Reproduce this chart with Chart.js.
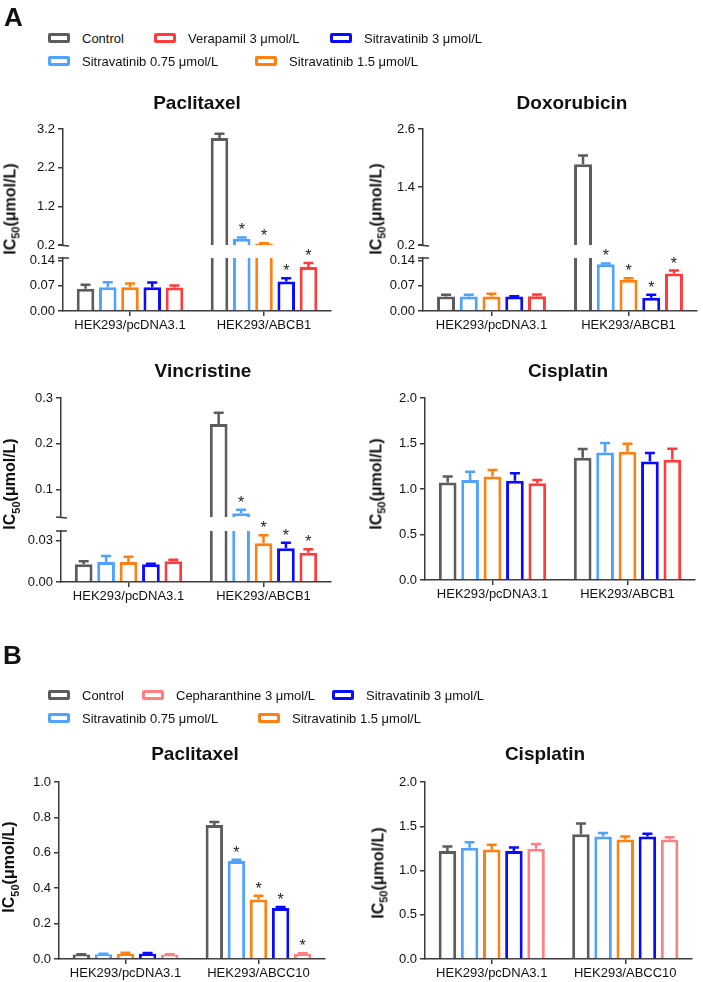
<!DOCTYPE html>
<html>
<head>
<meta charset="utf-8">
<script src="https://cdn.jsdelivr.net/npm/chart.js@4.4.1/dist/chart.umd.min.js"></script>
<style>
  body { margin: 0; background: #fff; font-family: "Liberation Sans", Arial, sans-serif; }
  #page { position: relative; width: 703px; height: 982px; overflow: hidden; }
  canvas { position: absolute; }
  .lbl { position: absolute; white-space: nowrap; color: #111; }
  .letter { font-weight: bold; font-size: 26px; line-height: 1; }
  .title { font-weight: bold; font-size: 19px; line-height: 1; transform: translate(-50%, -50%); }
  .ytitle { font-weight: bold; font-size: 16px; line-height: 1; transform: translate(-50%, -50%) rotate(-90deg); }
  .ytitle sub { font-size: 11px; }
  .leg { font-size: 13px; line-height: 1; transform: translateY(-50%); }
  .swatch { position: absolute; width: 16px; height: 4px; border: 3px solid; border-radius: 2px; transform: translateY(-50%); }
</style>
</head>
<body>
<div id="page"></div>
<script>
// --- categories and series ---
const cellsA = ["HEK293/pcDNA3.1", "HEK293/ABCB1"];
const cellsB = ["HEK293/pcDNA3.1", "HEK293/ABCC10"];
const seriesA = ["Control", "Sitravatinib 0.75 μmol/L", "Sitravatinib 1.5 μmol/L", "Sitravatinib 3 μmol/L", "Verapamil 3 μmol/L"];
const seriesB = ["Control", "Sitravatinib 0.75 μmol/L", "Sitravatinib 1.5 μmol/L", "Sitravatinib 3 μmol/L", "Cepharanthine 3 μmol/L"];

// --- IC50 means (one row per series, [pcDNA3.1, resistant line]) ---
const paclitaxelA_mean = [[0.062, 2.97], [0.066, 0.36], [0.066, 0.24], [0.066, 0.082], [0.0655, 0.122]];
const paclitaxelA_sem  = [[0.011, 0.11], [0.014, 0.034], [0.010, 0.006], [0.013, 0.009], [0.0055, 0.011]];
const doxorubicinA_mean = [[0.040, 1.87], [0.040, 0.130], [0.040, 0.087], [0.040, 0.037], [0.041, 0.104]];
const doxorubicinA_sem  = [[0.005, 0.18], [0.005, 0.002], [0.008, 0.004], [0.001, 0.008], [0.005, 0.008]];
const vincristineA_mean = [[0.0128, 0.243], [0.0146, 0.048], [0.0146, 0.0281], [0.0129, 0.0244], [0.0151, 0.0212]];
const vincristineA_sem  = [[0.0023, 0.025], [0.0042, 0.0076], [0.0037, 0.0058], [0.0004, 0.0041], [0.0010, 0.0025]];
const cisplatinA_mean = [[1.071, 1.343], [1.10, 1.401], [1.137, 1.409], [1.09, 1.302], [1.064, 1.321]];
const cisplatinA_sem  = [[0.066, 0.096], [0.09, 0.104], [0.073, 0.088], [0.084, 0.093], [0.036, 0.121]];
const paclitaxelB_mean = [[0.025, 0.757], [0.027, 0.554], [0.030, 0.336], [0.030, 0.288], [0.025, 0.030]];
const paclitaxelB_sem  = [[0.002, 0.017], [0.003, 0.007], [0.005, 0.022], [0.004, 0.006], [0.002, 0.002]];
const cisplatinB_mean = [[1.22, 1.41], [1.257, 1.385], [1.237, 1.35], [1.22, 1.385], [1.245, 1.35]];
const cisplatinB_sem  = [[0.05, 0.12], [0.063, 0.04], [0.053, 0.035], [0.04, 0.03], [0.055, 0.027]];

// significance vs control (* marks)
const starsResistant = [[0, 0], [0, 1], [0, 1], [0, 1], [0, 1]];
const starsNone = [[0, 0], [0, 0], [0, 0], [0, 0], [0, 0]];

// --- y tick values ---
const paclitaxelA_ticksHigh = [0.2, 1.2, 2.2, 3.2];
const paclitaxelA_ticksLow = [0, 0.07, 0.14];
const doxorubicinA_ticksHigh = [0.2, 1.4, 2.6];
const doxorubicinA_ticksLow = [0, 0.07, 0.14];
const vincristineA_ticksHigh = [0.1, 0.2, 0.3];
const vincristineA_ticksLow = [0, 0.03];
const cisplatin_ticks = [0, 0.5, 1.0, 1.5, 2.0];
const paclitaxelB_ticks = [0, 0.2, 0.4, 0.6, 0.8, 1.0];

// --- styles ---
const colorsA = ["#5c5c5c", "#4fa3ff", "#ff8010", "#0a0aff", "#ff3b3b"];
const colorsB = ["#5c5c5c", "#4fa3ff", "#ff8010", "#0a0aff", "#ff8080"];
const axisColor = "#3a3a3a";
const fontFamily = '"Liberation Sans", Arial, sans-serif';
Chart.defaults.font.family = fontFamily;

const page = document.getElementById("page");

function addText(cls, html, x, y) {
  const d = document.createElement("div");
  d.className = "lbl " + cls;
  d.innerHTML = html;
  d.style.left = x + "px";
  d.style.top = y + "px";
  page.appendChild(d);
  return d;
}

// === error bars + asterisks ===
const errStars = {
  id: "errStars",
  afterDatasetsDraw(chart) {
    const { ctx, chartArea: a } = chart;
    const y = chart.scales.y;
    chart.data.datasets.forEach((ds, i) => {
      const meta = chart.getDatasetMeta(i);
      meta.data.forEach((bar, j) => {
        const v = ds.data[j];
        const top = v + ds.err[j];
        const y0 = y.getPixelForValue(v);
        const y1 = y.getPixelForValue(top);
        ctx.save();
        ctx.beginPath();
        ctx.rect(a.left, a.top - 2, a.right - a.left, a.bottom - a.top + 2);
        ctx.clip();
        ctx.strokeStyle = ds.borderColor;
        ctx.lineWidth = 2.5;
        ctx.beginPath();
        ctx.moveTo(bar.x, y0);
        ctx.lineTo(bar.x, y1);
        ctx.moveTo(bar.x - 5, y1);
        ctx.lineTo(bar.x + 5, y1);
        ctx.stroke();
        ctx.restore();
        if (ds.stars[j] && top >= y.min && top <= y.max) {
          ctx.save();
          ctx.fillStyle = "#222";
          ctx.font = "16px " + fontFamily;
          ctx.textAlign = "center";
          ctx.textBaseline = "alphabetic";
          ctx.fillText("*", bar.x, y1 - 2);
          ctx.restore();
        }
      });
    });
  }
};

function makeChart(panel, seg) {
  const padL = 55, padT = 22, padR = 14;
  const padB = seg.showX ? 30 : 12;
  const w = Math.round(panel.r - panel.l + padL + padR);
  const h = Math.round(seg.b - seg.t + padT + padB);
  const cv = document.createElement("canvas");
  cv.width = w;
  cv.height = h;
  cv.style.left = (panel.l - padL) + "px";
  cv.style.top = (seg.t - padT) + "px";
  page.appendChild(cv);

  const breakMarks = {
    id: "breakMarks",
    afterDraw(chart) {
      const { ctx, chartArea: a } = chart;
      ctx.save();
      ctx.strokeStyle = axisColor;
      ctx.lineWidth = 1.5;
      ctx.beginPath();
      if (seg.brkBottom) { ctx.moveTo(a.left - 5, a.bottom); ctx.lineTo(a.left + 6, a.bottom + 1); }
      if (seg.brkTop) { ctx.moveTo(a.left - 5, a.top); ctx.lineTo(a.left + 6, a.top); }
      ctx.stroke();
      ctx.restore();
    }
  };

  new Chart(cv, {
    type: "bar",
    data: {
      labels: panel.cells,
      datasets: panel.series.map((name, i) => ({
        label: name,
        data: panel.mean[i],
        err: panel.sem[i],
        stars: panel.stars[i],
        backgroundColor: "rgba(255,255,255,1)",
        borderColor: panel.colors[i],
        borderWidth: 3,
        borderSkipped: "start",
        clip: 0,
        categoryPercentage: 0.83,
        barPercentage: 0.79
      }))
    },
    options: {
      responsive: false,
      animation: false,
      devicePixelRatio: 1,
      layout: { padding: { left: 0, top: padT, right: padR, bottom: seg.showX ? 0 : padB } },
      plugins: { legend: { display: false }, tooltip: { enabled: false } },
      scales: {
        x: {
          display: seg.showX,
          offset: true,
          grid: { display: true, drawOnChartArea: false, offset: false, tickLength: 5, color: axisColor, lineWidth: 1.5 },
          border: { display: true, color: axisColor, width: 1.5 },
          ticks: { color: "#111", font: { size: 13 }, padding: 2, maxRotation: 0, autoSkip: false },
          afterFit: s => { s.height = seg.showX ? padB : 0; }
        },
        y: {
          min: seg.min,
          max: seg.max,
          grid: { display: true, drawOnChartArea: false, tickLength: 5, color: axisColor, lineWidth: 1.5 },
          border: { display: true, color: axisColor, width: 1.5 },
          ticks: { color: "#111", font: { size: 13 }, padding: 3, callback: v => Number(v).toFixed(seg.dec) },
          afterBuildTicks: s => { s.ticks = seg.ticks.map(v => ({ value: v })); },
          afterFit: s => { s.width = padL; }
        }
      }
    },
    plugins: [errStars, breakMarks]
  });
}

// === panel layout ===
const panels = [
  { title: "Paclitaxel", cells: cellsA, series: seriesA, colors: colorsA, mean: paclitaxelA_mean, sem: paclitaxelA_sem, stars: starsResistant,
    l: 63, r: 331, tx: 197, ty: 102, yx: 12, yy: 209,
    segs: [
      { t: 129.3, b: 245.5, min: 0.2, max: 3.2, ticks: paclitaxelA_ticksHigh, dec: 1, showX: false, brkBottom: true },
      { t: 257.8, b: 310.5, min: 0, max: 0.147, ticks: paclitaxelA_ticksLow, dec: 2, showX: true, brkTop: true }
    ] },
  { title: "Doxorubicin", cells: cellsA, series: seriesA, colors: colorsA, mean: doxorubicinA_mean, sem: doxorubicinA_sem, stars: starsResistant,
    l: 423, r: 697, tx: 572, ty: 102, yx: 378, yy: 209,
    segs: [
      { t: 129.3, b: 245.2, min: 0.2, max: 2.6, ticks: doxorubicinA_ticksHigh, dec: 1, showX: false, brkBottom: true },
      { t: 257.8, b: 310.8, min: 0, max: 0.147, ticks: doxorubicinA_ticksLow, dec: 2, showX: true, brkTop: true }
    ] },
  { title: "Vincristine", cells: cellsA, series: seriesA, colors: colorsA, mean: vincristineA_mean, sem: vincristineA_sem, stars: starsResistant,
    l: 61, r: 331, tx: 203, ty: 370, yx: 12, yy: 484,
    segs: [
      { t: 398.3, b: 517.1, min: 0.04, max: 0.3, ticks: vincristineA_ticksHigh, dec: 1, showX: false, brkBottom: true },
      { t: 531.1, b: 581.7, min: 0, max: 0.037, ticks: vincristineA_ticksLow, dec: 2, showX: true, brkTop: true }
    ] },
  { title: "Cisplatin", cells: cellsA, series: seriesA, colors: colorsA, mean: cisplatinA_mean, sem: cisplatinA_sem, stars: starsNone,
    l: 425, r: 695, tx: 568, ty: 370, yx: 378, yy: 484,
    segs: [
      { t: 398.3, b: 580, min: 0, max: 2, ticks: cisplatin_ticks, dec: 1, showX: true }
    ] },
  { title: "Paclitaxel", cells: cellsB, series: seriesB, colors: colorsB, mean: paclitaxelB_mean, sem: paclitaxelB_sem, stars: starsResistant,
    l: 59, r: 325, tx: 195, ty: 753, yx: 11, yy: 867,
    segs: [
      { t: 781.7, b: 958.7, min: 0, max: 1, ticks: paclitaxelB_ticks, dec: 1, showX: true }
    ] },
  { title: "Cisplatin", cells: cellsB, series: seriesB, colors: colorsB, mean: cisplatinB_mean, sem: cisplatinB_sem, stars: starsNone,
    l: 425, r: 692, tx: 545, ty: 753, yx: 380, yy: 873,
    segs: [
      { t: 781.7, b: 958.3, min: 0, max: 2, ticks: cisplatin_ticks, dec: 1, showX: true }
    ] }
];

panels.forEach(p => {
  p.segs.forEach(seg => makeChart(p, seg));
  addText("title", p.title, p.tx, p.ty);
  addText("ytitle", "IC<sub>50</sub>(μmol/L)", p.yx, p.yy);
});

// === legends (HTML) ===
function legendItem(name, color, x, y) {
  const sw = document.createElement("div");
  sw.className = "swatch";
  sw.style.left = x + "px";
  sw.style.top = y + "px";
  sw.style.borderColor = color;
  page.appendChild(sw);
  addText("leg", name, x + 34, y);
}
// [series index, x, y]
const legendA = [[0, 48, 38], [4, 154, 38], [3, 330, 38], [1, 48, 60.5], [2, 255, 60.5]];
const legendB = [[0, 48, 695], [4, 142, 695], [3, 332, 695], [1, 48, 717.5], [2, 258, 717.5]];
legendA.forEach(([i, x, y]) => legendItem(seriesA[i], colorsA[i], x, y));
legendB.forEach(([i, x, y]) => legendItem(seriesB[i], colorsB[i], x, y));

addText("letter", "A", 4, 4);
addText("letter", "B", 3, 642);
</script>
</body>
</html>
